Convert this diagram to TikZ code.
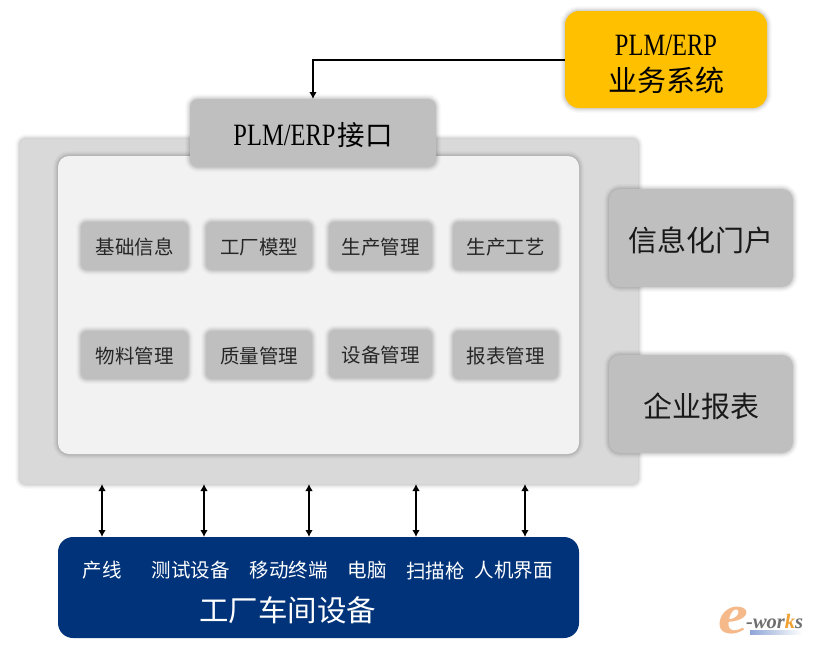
\documentclass[tikz,border=0pt]{standalone}
\usepackage{fontspec}
\setmainfont{Liberation Serif}
\newfontfamily\cjk{Noto Sans CJK SC}
\newfontfamily\latinnarrow[FakeStretch=0.79]{Liberation Serif}
\newfontfamily\logofont{Liberation Serif}
\usetikzlibrary{arrows.meta,calc}
\definecolor{orangebox}{HTML}{FFC000}
\definecolor{outerfill}{HTML}{D9D9D9}
\definecolor{greybox}{HTML}{BFBFBF}
\definecolor{innerfill}{HTML}{F2F2F2}
\definecolor{navybox}{HTML}{00337A}
\definecolor{logoorange}{HTML}{F5B98A}
\definecolor{logok}{HTML}{F0A030}
\definecolor{logogrey}{HTML}{6F6F6F}
\definecolor{logoblue}{HTML}{8FA6D6}
\newcommand{\dn}[2][1.5pt]{\raisebox{-#1}[\height][\depth]{#2}}
\tikzset{
  softshadow/.style={
    preaction={draw=black,line width=10pt,opacity=.018},
    preaction={draw=black,line width=8pt,opacity=.025},
    preaction={draw=black,line width=6pt,opacity=.035},
    preaction={draw=black,line width=4pt,opacity=.045},
    preaction={draw=black,line width=2pt,opacity=.05}},
  panel/.style={rectangle,inner sep=0pt,outer sep=0pt,anchor=north west,font=\cjk},
  small/.style={panel,softshadow,fill=greybox,minimum width=#1,minimum height=48pt,rounded corners=6pt,font=\cjk\fontsize{19.5}{19.5}\selectfont,text=black!85},
  big/.style={panel,softshadow,fill=greybox,minimum width=184pt,minimum height=98pt,rounded corners=11pt,font=\cjk\fontsize{29}{29}\selectfont,text=black!90},
  conn/.style={draw=black,line width=1.3pt,-{Latex[length=7pt,width=7.5pt]}},
  dconn/.style={draw=black,line width=1.3pt,{Latex[length=7pt,width=7.5pt]}-{Latex[length=7pt,width=7.5pt]}},
  whitelabel/.style={text=white,inner sep=0pt,font=\cjk\fontsize{19.5}{19.5}\selectfont},
}
\begin{document}
\begin{tikzpicture}[x=1pt,y=-1pt]
\useasboundingbox (0,0) rectangle (814,645);
\fill[white] (0,0) rectangle (814,645);
% outer panel
\node[panel,softshadow,fill=outerfill,minimum width=618pt,minimum height=345pt,rounded corners=6pt] (outer) at (20,139) {};
% inner panel
\node[panel,softshadow,fill=innerfill,minimum width=521pt,minimum height=298pt,rounded corners=11pt] (inner) at (58,156) {};
% interface
\node[panel,softshadow,fill=greybox,minimum width=246pt,minimum height=68pt,rounded corners=8pt] (iface) at (190,99) {\dn[2pt]{\latinnarrow\fontsize{31}{31}\selectfont PLM/ERP}\kern2pt\dn[2pt]{\cjk\fontsize{27.5}{27.5}\selectfont 接口}};
% top system
\node[panel,softshadow,fill=orangebox,minimum width=202pt,minimum height=97pt,rounded corners=14pt,align=center] (erp) at (565,11) {\dn[5pt]{\latinnarrow\fontsize{31}{31}\selectfont PLM/ERP}\\[10pt]\dn[5pt]{\cjk\fontsize{29}{29}\selectfont 业务系统}};
% right
\node[big] (portal) at (609,189) {\dn[2.5pt]{信息化门户}};
\node[big] (report) at (609,355) {\dn[2.5pt]{企业报表}};
% modules
\node[small=107pt] (m1) at (81,222) {\dn{基础信息}};
\node[small=106pt] (m2) at (206,222) {\dn{工厂模型}};
\node[small=103pt] (m3) at (329,222) {\dn{生产管理}};
\node[small=105pt] (m4) at (453,222) {\dn{生产工艺}};
\node[small=107pt] (m5) at (81,331) {\dn{物料管理}};
\node[small=106pt] (m6) at (206,331) {\dn{质量管理}};
\node[small=103pt] (m7) at (329,330) {\dn{设备管理}};
\node[small=105pt] (m8) at (453,331) {\dn{报表管理}};
% bottom
\node[panel,fill=navybox,minimum width=521pt,minimum height=101pt,rounded corners=15pt] (floor) at (58,537) {};
\node[whitelabel] (d1) at (102,570.5) {产线};
\node[whitelabel] (d2) at (190.5,570.5) {测试设备};
\node[whitelabel] (d3) at (288.5,570.5) {移动终端};
\node[whitelabel] (d4) at (367,570.5) {电脑};
\node[whitelabel] (d5) at (435.5,570.5) {扫描枪};
\node[whitelabel] (d6) at (513.5,570.5) {人机界面};
\node[whitelabel,font=\cjk\fontsize{29.5}{29.5}\selectfont] (title) at (287.5,610.5) {工厂车间设备};
% connectors
\draw[conn] (erp.west |- 0,60) -| (iface.north -| 313,0);
\foreach \x in {102,204,309,416,525}
  \draw[dconn] (\x,0 |- outer.south) -- (\x,0 |- floor.north);
% logo
\node[inner sep=0pt,anchor=base,xscale=1.2,text=logoorange,font=\logofont\itshape\bfseries\fontsize{56}{56}\selectfont] (logoe) at (733,633) {e};
\node[inner sep=0pt,anchor=base west,font=\logofont\itshape\bfseries\fontsize{20.5}{20.5}\selectfont,text=logogrey] (logot) at (746,628) {-wor\textcolor{logok}{k}s};
\node[inner sep=0pt,minimum width=52pt,minimum height=4pt,left color=logoblue,right color=white,anchor=west] (logobar) at (750,632) {};
\end{tikzpicture}
\end{document}
